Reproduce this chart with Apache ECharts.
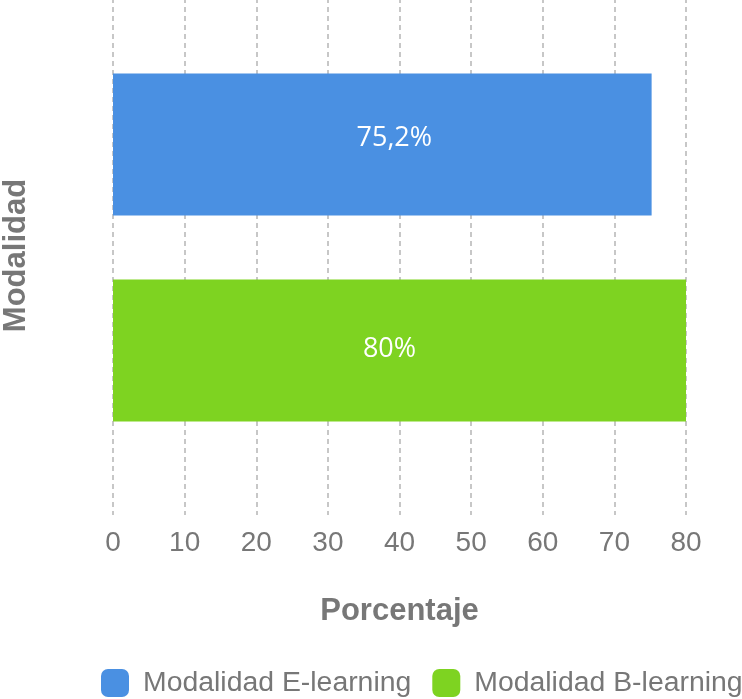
<!DOCTYPE html>
<html><head><meta charset="utf-8">
<script src="https://cdn.jsdelivr.net/npm/echarts@6/dist/echarts.min.js"></script>
<style>html,body{margin:0;padding:0;background:#fff}#c{width:742px;height:699px}</style>
</head><body><div id="c"></div>
<script>
var categories = ['Modalidad'];
var seriesNames = ['Modalidad E-learning', 'Modalidad B-learning'];
var eLearning = [75.2];
var bLearning = [80];
var xTicks = [0, 80, 10];
var colors = ['#4a90e2', '#7ed321'];

var chart = echarts.init(document.getElementById('c'));
function lbl(p){ return String(p.value).replace('.', ',') + '%'; }
var F = 'Liberation Sans, Arial, sans-serif';
chart.setOption({
  animation: false,
  legend: {
    bottom: 2, left: 101, width: 700, padding: 0, itemWidth: 28, itemHeight: 28, itemGap: 21,
    textStyle: { color: '#777', fontSize: 28.4, fontFamily: F, padding: [0, 0, 0, 9] },
    icon: 'roundRect'
  },
  grid: { left: 113, right: 56, top: -20, bottom: 184, outerBoundsMode: 'none', containLabel: false },
  xAxis: {
    type: 'value', min: xTicks[0], max: xTicks[1], interval: xTicks[2],
    name: 'Porcentaje', nameLocation: 'middle', nameGap: 81,
    nameTextStyle: { color: '#777', fontSize: 31, fontWeight: 'bold', fontFamily: F },
    axisLine: { show: false }, axisTick: { show: false },
    axisLabel: { color: '#777', fontSize: 28, margin: 14, fontFamily: F },
    splitLine: { show: true, lineStyle: { color: '#b5b5b5', type: [5, 4], width: 1.5 } }
  },
  yAxis: {
    type: 'category', data: categories, inverse: true,
    name: 'Modalidad', nameLocation: 'middle', nameGap: 81, nameRotate: 90,
    nameTextStyle: { color: '#777', fontSize: 31, fontWeight: 'bold', fontFamily: F, padding: [0, 16, 0, 0] },
    axisLine: { show: false }, axisTick: { show: false }, axisLabel: { show: false }
  },
  series: [
    { name: seriesNames[0], type: 'bar', data: eLearning, itemStyle: { color: colors[0] },
      barWidth: 142, barGap: '45%',
      label: { show: true, position: 'inside', color: '#fff', fontSize: 27, fontFamily: 'Open Sans', formatter: lbl, offset: [12, -6] } },
    { name: seriesNames[1], type: 'bar', data: bLearning, itemStyle: { color: colors[1] },
      barWidth: 142, barGap: '45%',
      label: { show: true, position: 'inside', color: '#fff', fontSize: 27, fontFamily: 'Open Sans', formatter: lbl, offset: [-10, -1] } }
  ]
});
</script></body></html>
